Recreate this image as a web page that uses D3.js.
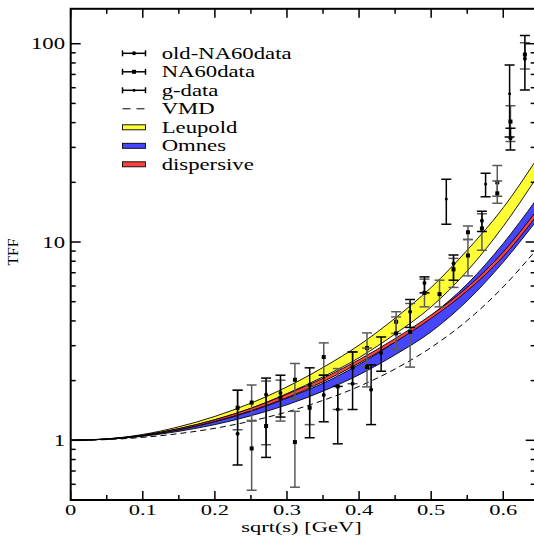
<!DOCTYPE html>
<html>
<head>
<meta charset="utf-8">
<script src="https://cdn.jsdelivr.net/npm/d3@7"></script>
<style>
  body { margin: 0; background: #fff; }
  text { font-family: "Liberation Serif", "Times New Roman", serif; fill: #000; }
</style>
</head>
<body>
<div id="chart"></div>
<script>
// curve samples (sqrt(s) in GeV)
const xs        = [0, 0.05, 0.1, 0.15, 0.2, 0.25, 0.3, 0.35, 0.4, 0.45, 0.5, 0.55, 0.6, 0.645];
const leupoldHi = [1, 1.017, 1.07, 1.17, 1.32, 1.54, 1.86, 2.33, 3.02, 4.13, 5.90, 9.10, 14.9, 25.7];
const leupoldLo = [1, 1.015, 1.062, 1.145, 1.27, 1.45, 1.72, 2.09, 2.61, 3.44, 4.71, 7.14, 12.0, 20.8];
const omnesHi   = [1, 1.014, 1.055, 1.13, 1.24, 1.40, 1.63, 1.94, 2.41, 3.14, 4.26, 6.14, 9.84, 16.2];
const omnesLo   = [1, 1.012, 1.047, 1.11, 1.20, 1.33, 1.51, 1.77, 2.14, 2.70, 3.53, 5.05, 7.92, 12.65];
const dispHi    = [1, 1.015, 1.062, 1.145, 1.27, 1.45, 1.71, 2.055, 2.55, 3.26, 4.29, 5.9, 8.9, 14.2];
const dispLo    = [1, 1.014, 1.056, 1.13, 1.245, 1.41, 1.64, 1.975, 2.45, 3.13, 4.12, 5.67, 8.45, 13.35];
const vmd       = [1, 1.0085, 1.035, 1.081, 1.150, 1.25, 1.39, 1.59, 1.87, 2.29, 2.94, 4.02, 5.94, 9.07];

// old-NA60data: x, value, lower, upper
const oldX  = [0.2315, 0.271, 0.291, 0.3315, 0.351, 0.3704, 0.391, 0.4167, 0.4306, 0.4708, 0.4907, 0.531, 0.5704, 0.61, 0.63];
const oldY  = [1.08, 1.70, 1.73, 1.90, 1.69, 1.43, 1.93, 1.80, 2.76, 4.45, 6.22, 7.8, 12.8, 33.4, 83.9];
const oldLo = [0.75, 0.82, 1.31, 1.03, 1.24, 0.96, 1.43, 1.20, 2.23, 3.71, 5.54, 6.42, 11.3, 29.1, 58.5];
const oldHi = [1.79, 2.06, 2.13, 2.32, 2.13, 1.87, 2.79, 2.40, 3.32, 5.13, 6.67, 8.6, 14.3, 37.5, 110];

// NA60data
const naX  = [0.2315, 0.251, 0.251, 0.271, 0.291, 0.311, 0.311, 0.3315, 0.351, 0.3704, 0.391, 0.411, 0.411, 0.4514, 0.4514, 0.4708, 0.4907, 0.5116, 0.531, 0.551, 0.551, 0.5704, 0.5917, 0.5917, 0.61, 0.63];
const naY  = [1.46, 1.55, 0.91, 1.18, 1.64, 2.02, 0.98, 1.46, 2.63, 1.87, 2.33, 2.92, 2.34, 3.96, 3.46, 3.52, 5.54, 5.46, 7.28, 11.2, 8.55, 11.7, 20.0, 17.6, 40.5, 88.2];
const naLo = [1.13, 1.25, 0.56, 0.95, 1.25, 1.62, 0.58, 1.20, 2.13, 1.43, 1.93, 2.34, 1.86, 3.46, 2.87, 2.34, 4.71, 4.71, 5.9, 10.3, 6.75, 9.1, 17.0, 15.7, 32.1, 74.6];
const naHi = [1.79, 1.90, 1.26, 1.99, 2.01, 2.44, 1.40, 1.88, 3.10, 2.30, 2.79, 3.48, 2.92, 4.45, 4.19, 4.90, 6.5, 6.42, 8.27, 12.05, 10.3, 13.9, 24.3, 20.3, 48.6, 101];

// g-data
const gX  = [0.521, 0.5755, 0.6088];
const gY  = [16.5, 19.6, 55.9];
const gLo = [12.3, 16.9, 33.9];
const gHi = [20.7, 22.2, 78.2];

const xMajor = [0, 0.1, 0.2, 0.3, 0.4, 0.5, 0.6];
const xMinor = [0.05, 0.15, 0.25, 0.35, 0.45, 0.55];
const yMajor = [1, 10, 100];
const yMinor = [0.6, 0.7, 0.8, 0.9, 2, 3, 4, 5, 6, 7, 8, 9, 20, 30, 40, 50, 60, 70, 80, 90];

const legendLabels = ["old-NA60data", "NA60data", "g-data", "VMD", "Leupold", "Omnes", "dispersive"];

const width = 534, height = 536;
const pLeft = 70.7, pRight = 535.7, pTop = 8.8, pBottom = 500;
const sx = 1.42; // wide lettering of the original

const x = d3.scaleLinear().domain([0, 0.645]).range([pLeft, pRight]);
const y = d3.scaleLog().domain([0.5, 150]).range([pBottom, pTop]);

const svg = d3.select("#chart").append("svg")
  .attr("width", width).attr("height", height);

svg.append("clipPath").attr("id", "clip")
  .append("rect").attr("x", pLeft).attr("y", pTop)
  .attr("width", pRight - pLeft).attr("height", pBottom - pTop);

const plot = svg.append("g").attr("clip-path", "url(#clip)");

/* bands */
function band(hi, lo, color) {
  const pts = xs.map((v, i) => ({x: v, hi: hi[i], lo: lo[i]}));
  const area = d3.area().x(d => x(d.x)).y0(d => y(d.lo)).y1(d => y(d.hi)).curve(d3.curveMonotoneX);
  plot.append("path").datum(pts).attr("d", area).attr("fill", color).attr("stroke", "none");
  for (const key of ["hi", "lo"]) {
    const line = d3.line().x(d => x(d.x)).y(d => y(d[key])).curve(d3.curveMonotoneX);
    plot.append("path").datum(pts).attr("d", line)
      .attr("fill", "none").attr("stroke", "#000").attr("stroke-width", 0.9);
  }
}
band(leupoldHi, leupoldLo, "#ffff33");
band(omnesHi, omnesLo, "#4646ff");
band(dispHi, dispLo, "#ff4040");

plot.append("path")
  .datum(xs.map((v, i) => [v, vmd[i]]))
  .attr("d", d3.line().x(d => x(d[0])).y(d => y(d[1])).curve(d3.curveMonotoneX))
  .attr("fill", "none").attr("stroke", "#000").attr("stroke-width", 1)
  .attr("stroke-dasharray", "6,4");

/* data with error bars */
function errorBars(X, Y, Lo, Hi, color, marker) {
  const g = plot.append("g").attr("stroke", color).attr("stroke-width", 1.5);
  X.forEach((v, i) => {
    const px = x(v);
    g.append("line").attr("x1", px).attr("x2", px).attr("y1", y(Lo[i])).attr("y2", y(Hi[i]));
    for (const e of [Lo[i], Hi[i]]) {
      g.append("line").attr("x1", px - 5).attr("x2", px + 5).attr("y1", y(e)).attr("y2", y(e));
    }
    marker(g, px, y(Y[i]));
  });
}
const dot = r => (g, px, py) => g.append("circle").attr("cx", px).attr("cy", py).attr("r", r)
  .attr("fill", "#000").attr("stroke", "none");
const square = (g, px, py) => g.append("rect").attr("x", px - 2).attr("y", py - 2)
  .attr("width", 4).attr("height", 4).attr("fill", "#000").attr("stroke", "none");

errorBars(naX, naY, naLo, naHi, "#5a5a5a", square);
errorBars(oldX, oldY, oldLo, oldHi, "#000", dot(2));
errorBars(gX, gY, gLo, gHi, "#000", dot(1.5));

/* frame and ticks */
svg.append("rect").attr("x", pLeft).attr("y", pTop)
  .attr("width", pRight - pLeft).attr("height", pBottom - pTop)
  .attr("fill", "none").attr("stroke", "#000").attr("stroke-width", 2);

const ticks = svg.append("g").attr("stroke", "#000").attr("stroke-width", 1.5);
function xTick(v, len) {
  ticks.append("line").attr("x1", x(v)).attr("x2", x(v)).attr("y1", pBottom).attr("y2", pBottom - len);
  ticks.append("line").attr("x1", x(v)).attr("x2", x(v)).attr("y1", pTop).attr("y2", pTop + len);
}
function yTick(v, len) {
  ticks.append("line").attr("x1", pLeft).attr("x2", pLeft + len).attr("y1", y(v)).attr("y2", y(v));
  ticks.append("line").attr("x1", pRight).attr("x2", pRight - len).attr("y1", y(v)).attr("y2", y(v));
}
xMajor.forEach(v => xTick(v, 9));
xMinor.forEach(v => xTick(v, 5));
yMajor.forEach(v => yTick(v, 10));
yMinor.forEach(v => yTick(v, 5));

function label(px, py, txt, anchor, size, stretch) {
  return svg.append("text")
    .attr("transform", `translate(${px},${py}) scale(${stretch || sx},1)`)
    .attr("text-anchor", anchor).attr("font-size", size).text(txt);
}
xMajor.forEach(v => label(x(v), 515, v === 0 ? "0" : d3.format(".1f")(v), "middle", 15, 1.5));
yMajor.forEach(v => label(65, y(v) + 5.5, String(v), "end", 16));

label(x(0.32), 532, "sqrt(s) [GeV]", "middle", 15, 1.5);
svg.append("text")
  .attr("transform", "translate(18,252) rotate(-90) scale(1.05,1)")
  .attr("text-anchor", "middle").attr("font-size", 15).text("TFF");

/* legend */
const legend = svg.append("g");
const ly = i => 53.3 + i * 18.5;
const lx0 = 122.5, lx1 = 145.5;
[0, 1, 2].forEach(i => {
  const g = legend.append("g").attr("stroke", "#000").attr("stroke-width", 1.5);
  g.append("line").attr("x1", lx0).attr("x2", lx1).attr("y1", ly(i)).attr("y2", ly(i));
  for (const e of [lx0, lx1]) {
    g.append("line").attr("x1", e).attr("x2", e).attr("y1", ly(i) - 3).attr("y2", ly(i) + 3);
  }
  if (i === 1) square(g, (lx0 + lx1) / 2, ly(i));
  else dot(i === 0 ? 2 : 1.5)(g, (lx0 + lx1) / 2, ly(i));
});
legend.append("line").attr("x1", lx0).attr("x2", lx1).attr("y1", ly(3)).attr("y2", ly(3))
  .attr("stroke", "#000").attr("stroke-width", 1).attr("stroke-dasharray", "8,6");
["#ffff33", "#4646ff", "#ff4040"].forEach((c, k) => {
  legend.append("rect").attr("x", lx0).attr("y", ly(4 + k) - 2.5)
    .attr("width", lx1 - lx0).attr("height", 5)
    .attr("fill", c).attr("stroke", "#000").attr("stroke-width", 0.9);
});
legendLabels.forEach((t, i) => label(161.7, ly(i) + 5.3, t, "start", 16));
</script>
</body>
</html>
